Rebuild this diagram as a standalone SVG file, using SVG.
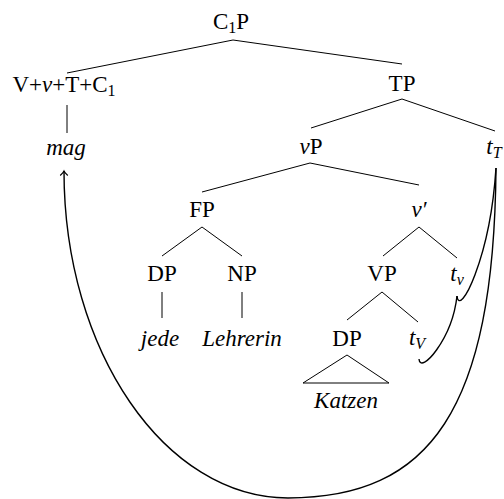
<svg xmlns="http://www.w3.org/2000/svg" width="504" height="499" viewBox="0 0 504 499">
<style>
text{font-family:"Liberation Serif","Times New Roman",serif;font-size:23px;fill:#000;text-anchor:middle}
.it{font-style:italic}
.sub{font-size:16px}
.edge{stroke:#000;stroke-width:1;fill:none}
.move{stroke:#000;stroke-width:1.4;fill:none}
</style>
<defs>
<marker id="tip" markerUnits="userSpaceOnUse" markerWidth="12" markerHeight="12" refX="0" refY="0" viewBox="-6 -6 12 12" orient="auto" overflow="visible">
<path d="M-4.5,-3.8 Q-1.5,-0.6 0,0 Q-1.5,0.6 -4.5,3.8" fill="none" stroke="#000" stroke-width="1.1"/>
</marker>
</defs>
<rect width="504" height="499" fill="#fff"/>
<g id="connectors">
<path class="edge" d="M233,40 L67,73 M233,40 L402,64"/>
<path class="edge" d="M67,105 L67,133"/>
<path class="edge" d="M402,99 L311,128 M402,99 L495,131"/>
<path class="edge" d="M310,163 L202,192 M310,163 L419,185"/>
<path class="edge" d="M202,227 L162,256 M202,227 L242,256"/>
<path class="edge" d="M162,292 L162,318 M242,292 L242,318"/>
<path class="edge" d="M419,227 L383,256 M419,227 L457,258"/>
<path class="edge" d="M382,292 L347,320 M382,292 L418,322"/>
<path class="edge" d="M347,355 L303,383 L389,383 Z"/>
<path class="move" d="M419,359 C420,375 452,340 457,296"/>
<path class="move" d="M457,296 C459,318 490,260 496,168"/>
<path class="move" d="M496,168 C494,410 430,498 288,498 C165,498 64,351 64,171" marker-end="url(#tip)"/>
</g>
<g id="n-c1p"><text x="231" y="29">C<tspan class="sub" dy="4">1</tspan><tspan dy="-4">P</tspan></text></g>
<g id="n-vvtc"><text x="64" y="92">V+<tspan class="it">v</tspan>+T+C<tspan class="sub" dy="4">1</tspan></text></g>
<g id="n-tp"><text x="402" y="91">TP</text></g>
<g id="n-mag"><text class="it" x="66" y="155">mag</text></g>
<g id="n-vp"><text x="311" y="154"><tspan class="it">v</tspan>P</text></g>
<g id="n-tT"><text class="it" x="494" y="154">t<tspan class="sub" dy="4">T</tspan></text></g>
<g id="n-fp"><text x="202" y="217">FP</text></g>
<g id="n-vbar"><text class="it" x="419" y="217">v′</text></g>
<g id="n-dp1"><text x="162" y="281">DP</text></g>
<g id="n-np"><text x="242" y="281">NP</text></g>
<g id="n-vP2"><text x="382" y="281">VP</text></g>
<g id="n-tv"><text class="it" x="457" y="281">t<tspan class="sub" dy="4">v</tspan></text></g>
<g id="n-jede"><text class="it" x="160" y="346">jede</text></g>
<g id="n-lehrerin"><text class="it" x="242" y="346">Lehrerin</text></g>
<g id="n-dp2"><text x="347" y="346">DP</text></g>
<g id="n-tV"><text class="it" x="417" y="345">t<tspan class="sub" dy="4">V</tspan></text></g>
<g id="n-katzen"><text class="it" x="346" y="408">Katzen</text></g>
</svg>
